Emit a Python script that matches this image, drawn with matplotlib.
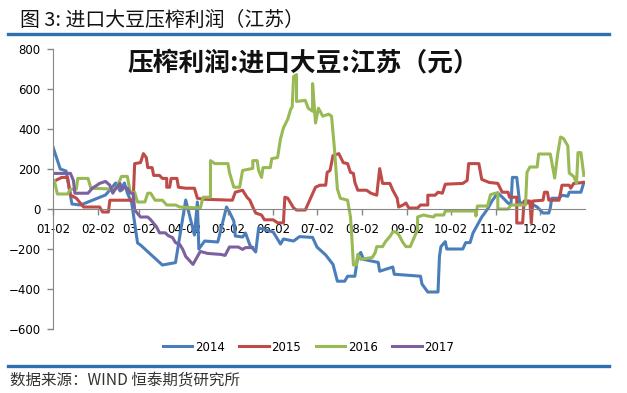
import matplotlib.pyplot as plt
from matplotlib.lines import Line2D
import pandas as pd

plt.rcParams['font.family'] = ['Noto Sans CJK SC', 'DejaVu Sans']

years = ['2014', '2015', '2016', '2017']
colors = ['#4A7EBB', '#BE4B48', '#98B954', '#7D60A0']
month_labels = ['01-02', '02-02', '03-02', '04-02', '05-02', '06-02',
                '07-02', '08-02', '09-02', '10-02', '11-02', '12-02']

# days counted from 01-02 of each year, profit in yuan
days_2014 = [0, 5, 9, 13, 19, 24, 36, 39, 43, 46, 49, 51, 54, 58, 60, 75, 84, 91,
             97, 99, 100, 104, 113, 119, 121, 124, 125, 130, 132, 135, 139, 141,
             151, 156, 158, 165, 169, 178, 181, 187, 192, 195, 200, 202, 207, 209,
             211, 213, 223, 224, 233, 234, 252, 253, 257, 264, 265, 266, 269, 270,
             281, 283, 286, 288, 294, 298, 301, 305, 308, 312, 314, 315, 318, 320,
             327, 332, 336, 340, 341, 342, 347, 349, 353, 354, 362, 364]
profit_2014 = [310, 200, 190, 25, 20, 35, 70, 95, 130, 90, 130, 80, 30, -170, -180,
               -280, -268, 45, -130, 35, -200, -160, -165, 10, -15, -60, -135, -140,
               -120, -180, -215, -95, -115, -175, -150, -160, -138, -142, -190,
               -230, -277, -361, -361, -336, -336, -237, -217, -252, -267, -311,
               -290, -326, -336, -375, -415, -415, -237, -188, -163, -200, -200,
               -168, -168, -120, -40, 0, 40, 80, 60, 30, 20, 158, 158, 30, 30, 10,
               -20, -20, 5, 54, 54, 69, 64, 84, 84, 133]

days_2015 = [1, 6, 10, 12, 16, 21, 32, 34, 38, 39, 55, 56, 60, 62, 64, 65, 68, 69,
             73, 75, 78, 78, 80, 81, 85, 86, 91, 97, 99, 103, 123, 125, 130, 133,
             135, 137, 139, 143, 145, 151, 154, 158, 159, 161, 165, 167, 173, 176,
             180, 183, 187, 188, 190, 192, 196, 199, 202, 204, 206, 207, 209, 215,
             218, 222, 224, 226, 231, 233, 236, 237, 240, 242, 244, 250, 252, 257,
             257, 262, 264, 267, 269, 281, 284, 285, 292, 294, 299, 305, 308, 312,
             313, 318, 318, 322, 323, 327, 328, 329, 336, 337, 339, 340, 347, 349,
             354, 355, 357, 364]
profit_2015 = [140, 158, 158, 70, 54, 10, 10, -15, -15, 44, 44, 227, 232, 277, 257,
               207, 207, 168, 168, 153, 153, 109, 109, 153, 153, 109, 104, 104, 54,
               49, 44, 84, 94, 59, 44, 10, -20, -30, -54, -54, -69, -69, 59, 54, 5,
               -5, -5, 44, 109, 119, 119, 183, 193, 267, 277, 232, 227, 183, 178,
               133, 94, 94, 79, 69, 202, 128, 128, 94, 54, 10, 20, 30, 5, 5, 20, 20,
               69, 69, 84, 79, 124, 128, 143, 227, 227, 148, 133, 128, 84, 84, 59,
               59, -70, -70, 40, 40, -70, 40, 44, 84, 84, 44, 44, 119, 119, 104,
               128, 133]

days_2016 = [1, 3, 10, 12, 16, 17, 24, 26, 43, 47, 51, 53, 56, 58, 63, 65, 67, 70,
             75, 78, 84, 87, 101, 103, 108, 108, 111, 120, 121, 124, 128, 130, 137,
             137, 140, 141, 143, 144, 149, 150, 154, 156, 158, 161, 163, 164, 165,
             167, 167, 173, 175, 178, 178, 180, 182, 185, 189, 191, 193, 195, 197,
             202, 204, 205, 206, 208, 209, 211, 219, 221, 222, 226, 228, 231, 233,
             235, 237, 240, 242, 245, 247, 250, 250, 254, 257, 261, 262, 268, 269,
             290, 290, 291, 298, 300, 305, 305, 312, 314, 324, 325, 327, 332, 333,
             341, 344, 346, 348, 350, 353, 354, 357, 359, 360, 362, 364]
profit_2016 = [140, 75, 75, 99, 99, 153, 153, 104, 99, 163, 163, 84, 84, 35, 35, 79,
               79, 44, 44, 20, 20, 10, 5, 59, 59, 242, 227, 227, 183, 109, 109, 193,
               203, 242, 242, 193, 158, 207, 207, 252, 257, 351, 405, 450, 499, 510,
               662, 672, 538, 543, 504, 489, 627, 430, 504, 464, 474, 464, 300, 100,
               54, 44, -40, -153, -280, -280, -227, -252, -242, -217, -188, -188,
               -163, -138, -114, -114, -128, -168, -188, -188, -153, -104, -40, -30,
               -35, -40, -30, -30, -10, -10, -35, 15, 15, 72, 82, 0, 0, 20, 20, 183,
               210, 210, 275, 275, 155, 272, 360, 353, 316, 180, 163, 130, 282, 282,
               168]

days_2017 = [1, 12, 14, 15, 24, 27, 32, 36, 39, 41, 43, 46, 47, 49, 51, 53, 55, 56,
             60, 65, 67, 71, 73, 77, 79, 82, 84, 87, 89, 91, 96, 101, 106, 115, 118,
             121, 127, 130, 132, 137]
profit_2017 = [178, 178, 143, 79, 79, 104, 128, 138, 119, 79, 104, 128, 94, 109, 104,
               79, 79, -5, -40, -40, -54, -89, -119, -119, -133, -143, -168, -178,
               -202, -237, -277, -212, -222, -227, -232, -190, -190, -202, -193, -193]

series_days = [days_2014, days_2015, days_2016, days_2017]
series_profit = [profit_2014, profit_2015, profit_2016, profit_2017]

start = pd.Timestamp('2014-01-02')
tick_days = [(pd.Timestamp('2014-' + m) - start).days for m in month_labels]

fig = plt.figure(figsize=(6.27, 3.93), dpi=100)
ax = fig.add_axes([0.0845, 0.1628, 0.849, 0.7125])

for d, p, year, c in zip(series_days, series_profit, years, colors):
    ax.plot(d, p, color=c, lw=2.2, label=year, solid_joinstyle='round')

ax.set_xlim(0, 365)
ax.set_ylim(-600, 800)
ax.set_yticks(range(-600, 801, 200))
ax.set_xticks(tick_days)
ax.set_xticklabels(month_labels)

axis_gray = '#868686'
for side in ['top', 'right']:
    ax.spines[side].set_visible(False)
ax.spines['left'].set_color(axis_gray)
ax.spines['bottom'].set_color(axis_gray)
ax.spines['bottom'].set_position(('data', 0))
ax.tick_params(axis='y', direction='out', length=4, width=1, color=axis_gray, pad=5,
               labelsize=8.5, labelfontfamily='DejaVu Sans')
ax.tick_params(axis='x', direction='out', length=4, width=1, color=axis_gray, pad=6,
               labelsize=8.5, labelfontfamily='DejaVu Sans')

ax.legend(loc='center', bbox_to_anchor=(0.492, 0.117), bbox_transform=fig.transFigure,
          ncol=4, frameon=False, handlelength=2.5, handletextpad=0.25,
          columnspacing=1.2, prop={'family': 'DejaVu Sans', 'size': 8.5})

fig.text(0.204, 0.84, '压榨利润:进口大豆:江苏（元）', fontsize=18.5, fontweight='bold',
         ha='left', va='center', color='#111111')

fig.text(0.032, 0.947, '图 3: 进口大豆压榨利润（江苏）', fontsize=14.3, ha='left',
         va='center', color='#111111')
fig.text(0.016, 0.031, '数据来源：WIND 恒泰期货研究所', fontsize=11.2, ha='left',
         va='center', color='#333333')

rule_color = '#2E6FB0'
fig.add_artist(Line2D([0.013, 0.971], [1 - 34 / 393, 1 - 34 / 393],
                      transform=fig.transFigure, color=rule_color, lw=2.4))
fig.add_artist(Line2D([0.013, 0.971], [1 - 366 / 393, 1 - 366 / 393],
                      transform=fig.transFigure, color=rule_color, lw=2.4))

fig.savefig('out.png', dpi=100)
